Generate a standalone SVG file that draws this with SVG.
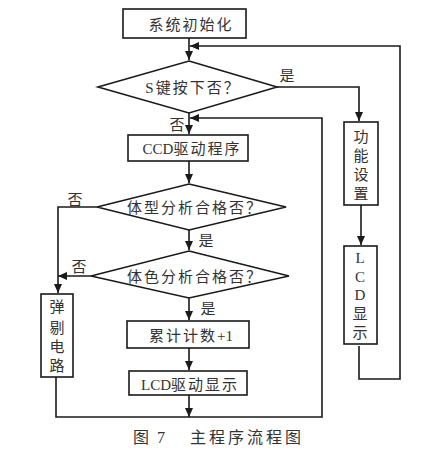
<svg xmlns="http://www.w3.org/2000/svg" width="426" height="455" viewBox="0 0 426 455">
<style>
.b{fill:#fff;stroke:#1a1a1a;stroke-width:1.6}
.l{fill:none;stroke:#1a1a1a;stroke-width:1.6}
.t{font-family:"Liberation Serif","Noto Sans CJK SC",serif;font-size:15px;fill:#333;text-anchor:middle;letter-spacing:2px}
.n{letter-spacing:0}
.v{font-family:"Liberation Serif","Noto Sans CJK SC",serif;font-size:15px;fill:#333;text-anchor:middle}
.c{font-family:"Liberation Serif","Noto Sans CJK SC",serif;font-size:16px;fill:#333}
</style>
<defs>
<marker id="a" markerWidth="10" markerHeight="10" refX="9" refY="5" orient="auto" markerUnits="userSpaceOnUse">
<path d="M0,1 L9,5 L0,9 z" fill="#1a1a1a"/>
</marker>
</defs>
<rect width="426" height="455" fill="#fff"/>
<g id="connectors">
<path class="l" d="M189,38 V60" marker-end="url(#a)"/>
<path class="l" d="M359,346 V379 H400 V46 H190" marker-end="url(#a)"/>
<path class="l" d="M277,87 H359 V121" marker-end="url(#a)"/>
<path class="l" d="M189,113 V134" marker-end="url(#a)"/>
<path class="l" d="M189,395 V417" marker-end="url(#a)"/>
<path class="l" d="M56,377 V417 H322 V118 H190" marker-end="url(#a)"/>
<path class="l" d="M189,161 V183" marker-end="url(#a)"/>
<path class="l" d="M97,207 H58 V293" marker-end="url(#a)"/>
<path class="l" d="M189,230 V250" marker-end="url(#a)"/>
<path class="l" d="M91,276 H58" marker-end="url(#a)"/>
<path class="l" d="M189,298 V320" marker-end="url(#a)"/>
<path class="l" d="M189,348 V370" marker-end="url(#a)"/>
<path class="l" d="M361,205 V245" marker-end="url(#a)"/>
</g>
<g id="init"><rect class="b" x="123" y="9" width="123" height="29"/><text class="t" x="191" y="30">系统初始化</text></g>
<g id="skey"><polygon class="b" points="189,61 277,87 189,113 98,87"/><text class="t" x="193" y="93">S键按下否？</text></g>
<g id="ccd"><rect class="b" x="128" y="135" width="120" height="26"/><text class="t" x="192" y="154"><tspan class="n">CCD</tspan>驱动程序</text></g>
<g id="shape"><polygon class="b" points="189,184 286,207 189,230 97,207"/><text class="t" x="195" y="213">体型分析合格否？</text></g>
<g id="color"><polygon class="b" points="189,251 289,276 189,298 91,276"/><text class="t" x="195" y="282">体色分析合格否？</text></g>
<g id="count"><rect class="b" x="127" y="321" width="122" height="27"/><text class="t" x="191" y="341">累计计数<tspan class="n">+1</tspan></text></g>
<g id="lcddrv"><rect class="b" x="129" y="371" width="118" height="24"/><text class="t" x="190" y="390"><tspan class="n">LCD</tspan>驱动显示</text></g>
<g id="reject"><rect class="b" x="41" y="294" width="32" height="83"/>
<text class="v" x="57" y="312">弹</text><text class="v" x="57" y="333">剔</text><text class="v" x="57" y="352">电</text><text class="v" x="57" y="371">路</text></g>
<g id="func"><rect class="b" x="344" y="122" width="34" height="83"/>
<text class="v" x="361" y="142">功</text><text class="v" x="361" y="161">能</text><text class="v" x="361" y="180">设</text><text class="v" x="361" y="199">置</text></g>
<g id="lcd"><rect class="b" x="344" y="246" width="33" height="98"/>
<text class="v" x="360" y="263">L</text><text class="v" x="360" y="282">C</text><text class="v" x="360" y="300">D</text><text class="v" x="360" y="319">显</text><text class="v" x="360" y="338">示</text></g>
<g id="labels">
<text class="v" x="287" y="81">是</text>
<text class="v" x="177" y="130">否</text>
<text class="v" x="75" y="205">否</text>
<text class="v" x="206" y="246">是</text>
<text class="v" x="79" y="272">否</text>
<text class="v" x="208" y="314">是</text>
</g>
<text class="c" y="443"><tspan x="133">图</tspan><tspan x="157">7</tspan><tspan x="190" letter-spacing="3">主程序流程图</tspan></text>
</svg>
